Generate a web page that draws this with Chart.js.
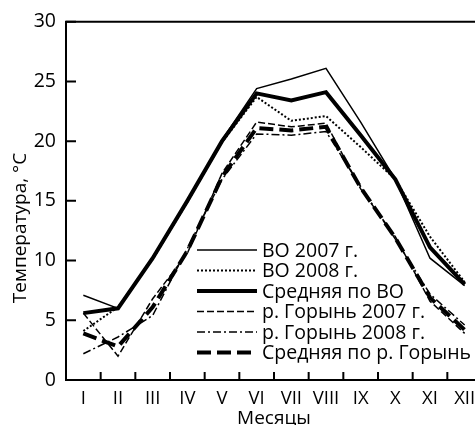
<!DOCTYPE html>
<html>
<head>
<meta charset="utf-8">
<script src="https://cdn.jsdelivr.net/npm/chart.js@4.4.1/dist/chart.umd.min.js"></script>
<style>
  html, body { margin: 0; padding: 0; background: #fff; overflow: hidden; }
  #wrap { width: 486px; height: 425px; }
</style>
</head>
<body>
<div id="wrap"><canvas id="c" width="486" height="425"></canvas></div>
<script>
const months = ['I','II','III','IV','V','VI','VII','VIII','IX','X','XI','XII'];
const yTicks = [0, 5, 10, 15, 20, 25, 30];

const vo2007    = [7.1, 6.0, 10.3, 15.0, 20.1, 24.4, 25.2, 26.1, 21.6, 16.8, 10.2, 7.9];
const vo2008    = [4.1, 6.1, 10.1, 14.9, 19.9, 23.7, 21.7, 22.1, 19.5, 16.8, 12.0, 8.2];
const voMean    = [5.6, 6.0, 10.2, 15.0, 20.0, 24.0, 23.4, 24.1, 20.5, 16.8, 11.1, 8.0];
const gor2007   = [5.6, 2.0, 6.8, 10.6, 17.3, 21.6, 21.2, 21.5, 16.0, 12.0, 6.6, 3.9];
const gor2008   = [2.2, 3.6, 5.4, 11.0, 16.8, 20.6, 20.5, 20.8, 16.2, 11.8, 7.2, 4.6];
const gorMean   = [3.9, 2.8, 6.1, 10.8, 17.0, 21.1, 20.9, 21.2, 16.1, 11.9, 6.9, 4.2];

const seriesNames = ['ВО 2007 г.', 'ВО 2008 г.', 'Средняя по ВО', 'р. Горынь 2007 г.', 'р. Горынь 2008 г.', 'Средняя по р. Горынь'];
const yTitle = 'Температура, °C';
const xTitle = 'Месяцы';

const FONT = "'Open Sans', 'Noto Sans', 'DejaVu Sans', sans-serif";

function ds(label, data, width, dash) {
  return { label, data, borderColor: '#000', backgroundColor: '#000', borderWidth: width,
           borderDash: dash, pointRadius: 0, tension: 0, fill: false, borderCapStyle: 'butt' };
}

const legendPlugin = {
  id: 'innerLegend',
  afterDatasetsDraw(chart) {
    const ctx = chart.ctx;
    ctx.save();
    ctx.font = '19.5px ' + FONT;
    ctx.fillStyle = '#000';
    ctx.textBaseline = 'middle';
    ctx.textAlign = 'left';
    const x0 = 197, x1 = 257, tx = 262, y0 = 250, dy = 20.5;
    chart.data.datasets.forEach((d, i) => {
      const y = y0 + i * dy;
      ctx.beginPath();
      ctx.lineWidth = d.borderWidth;
      ctx.strokeStyle = '#000';
      ctx.setLineDash(d.borderDash || []);
      ctx.moveTo(x0, y);
      ctx.lineTo(x1, y);
      ctx.stroke();
      ctx.setLineDash([]);
      ctx.fillText(d.label, tx, y + 1);
    });
    ctx.restore();
  }
};

const framePlugin = {
  id: 'frame',
  afterDraw(chart) {
    const ctx = chart.ctx, a = chart.chartArea;
    const xs = chart.scales.x, ys = chart.scales.y;
    ctx.save();
    ctx.strokeStyle = '#000';
    ctx.lineWidth = 2;
    ctx.beginPath();
    ctx.moveTo(a.left - 1, a.top);
    ctx.lineTo(a.right, a.top);
    ctx.stroke();
    ctx.beginPath();
    for (let i = 0; i < months.length - 1; i++) {
      const p = (xs.getPixelForValue(i) + xs.getPixelForValue(i + 1)) / 2;
      ctx.moveTo(p, a.bottom);
      ctx.lineTo(p, a.bottom - 8);
    }
    yTicks.forEach(v => {
      const p = ys.getPixelForValue(v);
      ctx.moveTo(a.left, p);
      ctx.lineTo(a.left + 10, p);
    });
    ctx.stroke();
    ctx.translate(21, 228);
    ctx.rotate(-Math.PI / 2);
    ctx.font = '19px ' + FONT;
    ctx.fillStyle = '#000';
    ctx.textAlign = 'center';
    ctx.textBaseline = 'middle';
    ctx.fillText(yTitle, 0, 0);
    ctx.restore();
  }
};

new Chart(document.getElementById('c'), {
  type: 'line',
  data: {
    labels: months,
    datasets: [
      ds(seriesNames[0], vo2007, 1.5, []),
      ds(seriesNames[1], vo2008, 2, [2, 2]),
      ds(seriesNames[2], voMean, 4, []),
      ds(seriesNames[3], gor2007, 1.5, [7, 3]),
      ds(seriesNames[4], gor2008, 1.5, [8, 3, 2, 3]),
      ds(seriesNames[5], gorMean, 4, [14, 6])
    ]
  },
  options: {
    responsive: false,
    animation: false,
    devicePixelRatio: 1,
    layout: { padding: { top: 14, right: 4, left: 0, bottom: 0 } },
    plugins: { legend: { display: false }, tooltip: { enabled: false } },
    scales: {
      x: {
        type: 'category',
        offset: true,
        grid: { display: false, drawTicks: false },
        border: { display: true, color: '#000', width: 2 },
        ticks: { color: '#000', font: { family: FONT, size: 18.5 }, padding: 8, maxRotation: 0, autoSkip: false },
        title: { display: true, text: xTitle, color: '#000', font: { family: FONT, size: 19, lineHeight: 0.7 }, padding: { top: 0, bottom: 0 } },
        afterFit: s => { s.height = 45; }
      },
      y: {
        min: 0, max: 30,
        afterBuildTicks: s => { s.ticks = yTicks.map(v => ({ value: v })); },
        grid: { display: false, drawTicks: false },
        border: { display: true, color: '#000', width: 2 },
        ticks: { color: '#000', font: { family: FONT, size: 19.5 }, padding: 10 },
        title: { display: false },
        afterFit: s => { s.width = 66; }
      }
    }
  },
  plugins: [legendPlugin, framePlugin]
});
</script>
</body>
</html>
